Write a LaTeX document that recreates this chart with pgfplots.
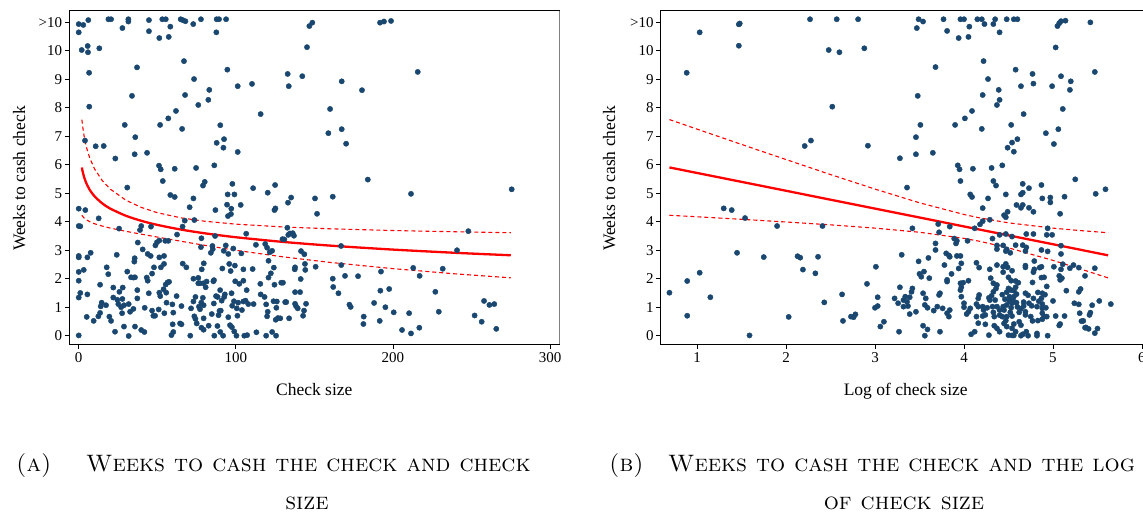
\documentclass[border=0pt]{standalone}
\usepackage{fontspec}
\usepackage{pgfplots}
\pgfplotsset{compat=1.18}
\newfontfamily\tnr{Liberation Serif}
\definecolor{sblue}{RGB}{26,71,111}

\pgfplotsset{
  stata/.style={
    scale only axis, anchor=south west,
    width=490pt, height=333.6pt,
    ymin=-0.302, ymax=11.41,
    ytick={0,1,2,3,4,5,6,7,8,9,10,11},
    yticklabels={0,1,2,3,4,5,6,7,8,9,10,>10},
    tick align=outside, major tick length=4.5pt,
    xtick pos=bottom, ytick pos=left,
    tick style={black, line width=0.8pt},
    axis line style={black, line width=0.9pt},
    /pgf/number format/assume math mode=true,
    ticklabel style={font=\tnr\fontsize{15}{17}\selectfont},
    yticklabel style={inner xsep=2.5pt},
    clip=false,
  },
  dots/.style={only marks, mark=*, mark size=2.65pt, color=sblue, mark options={fill=sblue, draw=sblue}},
  fit/.style={no marks, red, line width=2.3pt},
  ci/.style={no marks, red, line width=1.1pt, dash pattern=on 4pt off 3pt},
}

\begin{document}
\begin{tikzpicture}[x=1pt,y=1pt]
\path[use as bounding box] (0,0) rectangle (1143,512);

% (a) weeks vs check size
\begin{axis}[stata, at={(69.3pt,167.7pt)}, xmin=-6, xmax=305.9, xtick={0,100,200,300}]
\addplot[dots] coordinates {
(0,10.94) (2.9,10.91) (6.1,11.08) (0,10.65) (18.9,11.11) (20.6,11.11) (27.8,10.80) (31.6,11.11) (31.6,11.03)
(44.7,11.08) (44.7,10.69) (51.3,10.45) (53.2,11.11) (55.4,11.11) (57.3,10.49) (58.3,10.85) (64.9,11.11)
(66.2,11.08) (67.9,11.04) (72.9,10.94) (77.8,11.11) (87.8,11.11) (89.3,11.11) (87.6,10.65) (93.8,11.11)
(146.8,10.87) (148.7,10.99) (145.3,10.13) (191.8,10.99) (194.3,11.03) (198.8,11.05)
(133,9.19) (133.7,8.76) (142.3,9.11) (167.4,8.93) (180.3,8.62) (215.8,9.26) (160,7.96) (158.9,7.11)
(167.4,7.25) (170.2,6.74) (184,5.48) (211.5,4.98) (275.6,5.14) (135.2,4.85) (150.4,4.82) (161.7,4.88)
(1.9,10.03) (5.7,10.17) (5.9,9.95) (13.1,10.09) (6.6,9.23) (6.7,8.04) (4.0,6.85) (10.8,6.65) (15.9,6.66)
(23.3,6.22) (29.3,7.40) (33.9,8.42) (37.1,9.42) (36,6.97) (35.6,6.37) (43.5,6.42) (30.9,5.20) (51.8,7.40)
(57,7.63) (61.9,7.89) (65.8,7.26) (67,9.64) (67.7,8.45) (73.4,9.01) (76.1,8.10) (82.5,8.28) (83.1,8.63)
(90.1,7.39) (87.8,6.77) (92.5,6.90) (92.1,6.60) (94.6,9.34) (101.2,8.76) (110.3,8.84) (115.8,7.78)
(101.2,6.45) (51.1,5.97) (52.2,5.84) (53.5,5.43) (61.1,5.86) (74.7,5.89) (86.3,5.98) (80.2,5.40) (79.1,5.27)
(58.3,4.94) (61.1,4.87) (73,4.82) (94.8,4.96) (99.1,4.96) (97.8,5.33) (111,5.18) (120.3,5.02) (125,5.29)
(46,3.83) (73.6,4.06) (62.6,3.55) (78.1,3.42) (86.8,3.50) (77.8,3.11)
(0,0.01) (0,4.46) (4.2,4.41) (0,3.85) (1,3.84) (0,2.75) (0,2.8) (0,2.24) (3.2,2.31) (0,1.93) (1,1.5) (0,1.34)
(5.5,1.45) (5.5,2.75) (7.6,2.91) (12.7,4.12) (5.1,0.66) (9.5,0.52) (12.5,0.68) (13.6,0.80) (13.6,1.79)
(14,1.03) (14.6,1.16) (17.4,1.07) (17.8,2.40) (18.8,2.16) (19.5,0.67) (20.6,0.52) (23.1,0.14) (24.2,2.84)
(25.7,3.76) (22,1.69) (22,1.34) (24.6,1.26) (25.9,1.54) (25.2,1.11) (27,1.0) (27.6,0.79) (27.8,1.29)
(28,1.69) (28.8,0.32) (28.8,1.07) (30.9,2.25) (31.8,-0.01) (31.8,1.11) (32.7,0.84) (33.3,2.05) (34.8,2.04)
(34.8,0.94) (35.4,2.6) (35.6,2.72) (35.8,0.32) (35.8,2.05) (37.3,1.6) (37.6,3.27) (37.3,1.31) (39,3.71)
(39.8,3.85) (39.8,0.2) (40.7,3.03) (41.8,0.13) (42,0.98) (43.3,2.04) (43.9,2.87) (43.9,1.93) (44.6,1.49)
(45.8,2.8) (46.7,2.18) (46.7,0.88) (47.5,0.70) (48.6,0.70) (47.9,2.40) (48.8,3.17) (49.8,3.28) (51.3,3.34)
(51.3,2.75) (51.3,1.51) (50.9,0.92) (51.9,1.39) (52.3,2.40) (54,1.63) (54.3,2.52) (54.3,2.8) (54.5,0.79)
(55.4,1.8) (55.7,1.51) (55.9,1.16) (56.5,1.87) (57.5,1.89) (55.1,3.33) (57,3.33) (59,0.02) (60.2,0.13)
(59.6,1.1) (59.8,0.40) (60.2,0.81) (62.3,1.39) (64.5,0.43) (65.4,0.40) (65.4,1.04) (66.2,2.53) (66.1,3.83)
(67.5,4.04) (68.5,2.40) (70.6,4.51) (71,0) (71.5,0.96) (73,2.0) (73,1.2) (73.6,0.68) (74.3,0.59) (74.3,1.36)
(75.1,0.43) (76.1,2.03) (76.1,1.84) (76.5,1.02) (77.2,0.93) (77.2,1.84) (78.1,0.28) (78,1.16) (78.3,2.33)
(79,1.33) (79.3,1.84) (79.5,0.61) (79.5,1.07) (79.5,0.21) (79.6,2.54) (80.8,1.7) (81.4,1.9) (82.7,0.35)
(84.7,0.76) (85.1,3.15) (84.1,2.91) (85.3,3.04) (85.7,1.91) (86.1,1.95) (86,1.13) (86.3,0) (87,4.41)
(87.4,1.39) (88.4,1.36) (88.3,0.34) (89,0.72) (89.6,0.87) (90,1.6) (90.1,0.13) (90.4,0.88) (91,1.23)
(91.4,2.36) (92.3,2.98) (92.6,1.36) (91.9,0) (93,1.45) (93.6,3.17) (94.4,4.6) (95,4.2) (95.2,2.87)
(95.2,0.65) (95.8,2.52) (96.3,0.37) (96.7,2.27) (96.9,4.27) (97.1,4.46) (97.3,1.49) (97.7,1.05) (97.5,0.3)
(98.4,3.06) (98.8,1.21) (99,0.15) (99.4,2.46) (99.6,1.91) (100.4,0) (100.6,0.96) (101,0.7) (101.5,1.16)
(102.2,1.82) (103.1,4.59) (103.5,2.89) (103.9,0.90) (104.8,2.33) (104.8,1.93) (104.8,1.2) (105.4,0)
(106.2,1.23) (106.6,3.58) (106.9,1.60) (107.2,0.02) (107.9,1.11) (110.7,2.34) (111.3,1.11) (112.8,3.19)
(113.1,0.12) (115.6,1.82) (115.8,1.45) (118.3,1.36) (118.7,3.22) (119.3,1.1) (119.3,0) (119.9,3.09)
(119.9,0.68) (120.3,0.84) (120.8,2.04) (120.8,2.63) (121.6,2.93) (122.3,2.19) (123.1,2.98) (124.2,2.39)
(124,1.21) (124.6,1.79) (124.6,4.41) (125.2,4.47) (125.4,0.56) (123.1,0.13) (125.6,0) (125.8,0.98)
(126.1,1.2) (126.8,0.62) (128.3,0.61) (128.9,1.86) (129.7,3.39) (131.4,1.18) (133.2,4.67) (132.8,3.79)
(134.5,3.59)
(151.7,4.28) (130.9,3.38) (133.4,3.54) (136.2,3.6) (137,3.51) (167,3.15) (248,3.67) (240.8,3.0)
(141.5,2.97) (143.6,2.86) (144,2.52) (144.2,2.31) (137.7,2.4) (137.5,2.33) (150.8,2.42) (141.3,1.99)
(130,1.86) (137.7,1.53) (140.9,1.53) (167.1,2.48) (169.5,2.1) (161.7,2.0) (162,1.71) (165.3,1.49)
(177.8,2.09) (192.4,2.25) (192,1.58) (197.6,1.64) (212.9,2.38) (217,2.1) (231.7,2.35) (227,1.54)
(229.2,0.84) (132.1,1.18) (137.7,1.12) (138.3,1.04) (139.4,0.96) (144.7,1.12) (143.4,0.88) (142.8,0.70)
(133.9,0.61) (172.3,1.09) (173.1,1.01) (188,1.15) (195.2,1.0) (200.5,0.82) (210.3,0.79) (191.6,0.52)
(181.4,0.67) (181.2,0.41) (205.8,0.2) (211.5,0.08) (216.8,0.28) (252,0.71) (256.5,0.49) (258,1.22)
(261.4,1.08) (264.5,1.11) (265.8,0.24)
};
% fitted log curve and confidence band, evaluated at the check sizes below
\addplot[ci] coordinates {(2,7.584) (3,7.147) (4,6.838) (5,6.600) (7,6.241) (10,5.864) (15,5.443) (20,5.150)
 (30,4.757) (40,4.500) (50,4.319) (65,4.138) (80,4.020) (100,3.916) (130,3.818) (160,3.753) (200,3.692) (240,3.648) (275,3.616)};
\addplot[ci] coordinates {(2,4.228) (3,4.157) (4,4.106) (5,4.066) (7,4.003) (10,3.932) (15,3.847) (20,3.778)
 (30,3.665) (40,3.562) (50,3.463) (65,3.316) (80,3.174) (100,2.998) (130,2.768) (160,2.573) (200,2.354) (240,2.170) (275,2.032)};
\addplot[fit, smooth] coordinates {(2,5.906) (2.5,5.766) (3,5.652) (4,5.472) (5,5.333) (7,5.122) (10,4.898) (15,4.645) (20,4.464)
 (30,4.211) (40,4.031) (50,3.891) (65,3.727) (80,3.597) (100,3.457) (130,3.293) (160,3.163) (200,3.023) (240,2.909) (275,2.824)};
\draw[gray, line width=1.6pt] (rel axis cs:1,0) -- (rel axis cs:1,1);
\end{axis}

% (b) weeks vs log of check size
\begin{axis}[stata, at={(660.7pt,167.7pt)}, xmin=0.592, xmax=6.098, xtick={1,2,3,4,5,6}]
\addplot[dots] coordinates {
(0.884,9.23) (1.03,10.65) (1.47,10.93) (1.48,10.96) (1.47,10.18) (2.27,11.11) (2.57,11.11) (2.81,11.11)
(2.48,10.03) (2.60,9.95) (2.88,10.09) (2.52,8.04) (2.21,6.66) (2.28,6.85) (2.92,6.67)
(3.49,11.11) (3.54,11.03) (3.47,10.80) (3.77,11.11) (3.81,10.70) (3.96,11.11) (4.0,11.11) (4.06,10.85)
(3.94,10.45) (4.05,10.49) (4.15,11.11) (4.20,11.11) (4.23,10.94) (4.35,11.11) (4.33,10.94) (4.40,10.65)
(4.48,11.11) (4.56,11.11) (4.60,11.11) (5.05,10.87) (5.07,10.97) (5.09,11.04) (5.14,11.06) (5.42,11.0)
(5.03,10.12) (4.22,9.64) (3.68,9.43) (4.58,9.34) (4.77,9.19) (5.47,9.26) (4.27,9.01) (5.09,9.11) (5.20,8.93)
(4.64,8.76) (4.78,8.85) (4.99,8.76) (4.39,8.63) (5.19,8.63) (3.48,8.42) (4.21,8.45) (4.40,8.28) (4.37,8.10)
(5.11,7.96) (4.09,7.89) (4.01,7.63) (4.67,7.78) (3.51,7.40) (3.90,7.40) (4.53,7.40) (4.20,7.26) (5.06,7.25)
(4.92,7.11) (3.46,6.97) (4.60,6.90) (4.54,6.78) (4.49,6.60) (4.56,6.46) (5.01,6.73) (3.46,6.37) (3.65,6.42)
(3.28,6.23) (3.93,5.98) (3.95,5.84) (4.10,5.86) (4.31,5.89) (4.43,5.98) (5.25,5.49) (3.96,5.43) (4.33,5.43)
(4.36,5.27) (4.66,5.33) (4.73,5.18) (4.87,5.29) (3.36,5.20) (4.07,4.96) (4.09,4.87) (4.27,4.82) (4.47,4.96)
(4.64,4.96) (4.66,5.02) (4.88,4.82) (4.97,4.85) (5.13,4.88) (5.48,4.98) (5.59,5.14)
(1.30,4.47) (1.39,4.41) (1.54,4.13) (1.90,3.85) (2.41,3.85) (1.45,2.91) (1.75,2.76) (2.13,2.79) (2.16,2.74)
(2.36,2.77) (2.19,2.32) (2.33,2.19) (1.03,2.21) (0.89,1.92) (0.69,1.51) (1.15,1.35) (0.89,0.70) (2.03,0.66)
(1.59,0.01) (2.43,1.17) (2.63,1.45) (2.64,0.52) (2.73,0.67) (2.76,0.65) (2.78,0.75) (2.91,1.82) (3.01,2.42)
(3.03,1.35) (3.0,0.98) (3.03,1.04) (3.06,0.32)
(4.97,4.68) (4.21,4.48) (4.29,4.07) (4.21,4.02) (4.18,3.91) (4.12,3.77) (4.45,4.23) (4.47,4.16) (4.49,4.35)
(4.59,4.59) (4.66,4.59) (4.64,4.49) (4.73,4.49) (4.78,4.35) (5.08,4.28) (4.94,3.77) (4.93,3.54) (4.99,3.54)
(4.70,3.57) (4.78,3.57) (4.54,3.48) (4.47,3.57) (4.40,3.54) (4.32,3.41) (4.37,3.17) (4.37,3.04) (4.44,3.17)
(4.47,2.97) (4.52,2.91) (4.48,3.03) (4.58,3.18) (4.66,3.18) (4.70,3.10) (4.69,2.97) (4.79,2.62) (4.87,3.01)
(4.94,2.96) (5.09,3.16) (5.09,2.87) (5.11,2.51) (5.01,2.42) (5.09,2.33) (5.19,2.37) (5.23,2.48) (5.29,2.39)
(5.36,2.10) (5.47,2.37) (5.07,2.10) (5.10,2.02) (5.08,1.96) (5.15,1.58) (5.29,1.54) (5.31,1.64) (5.24,1.14)
(5.29,1.10) (5.44,1.07) (5.52,1.22) (5.65,1.11) (5.42,0.81) (5.41,0.73) (5.34,0.52) (5.32,0.51) (5.30,0.79)
(5.36,0.28) (5.40,0.24) (5.50,0.25) (5.47,0.09) (5.13,0.69) (5.03,0.69) (5.08,0.41) (5.00,1.22) (4.93,1.73)
(4.90,2.05) (4.87,2.04) (4.85,2.39) (4.87,2.42) (4.78,2.23) (4.77,1.87) (4.83,1.52) (4.88,1.49) (4.91,1.44)
(4.87,1.31) (4.84,1.21) (4.88,1.11) (4.82,1.02) (4.88,0.96) (4.92,0.98) (4.88,0.79) (4.90,0.67) (4.93,0.67)
(4.83,0.53) (4.88,0.58) (4.94,0) (4.82,0) (4.82,0.08) (4.72,0) (4.66,0.05) (4.64,0) (4.70,0.14) (4.69,1.49)
(4.72,1.42) (4.78,1.31) (4.67,1.18) (4.73,1.14) (4.76,1.05) (4.67,1.04) (4.64,0.95) (4.69,0.84) (4.69,0.73)
(4.75,0.67) (4.77,0.52) (4.62,0.49) (4.64,0.37) (4.62,0.82) (4.60,1.01) (4.59,1.16) (4.56,1.37) (4.55,1.25)
(4.59,1.46) (4.56,1.58) (4.58,1.70) (4.61,1.86) (4.58,1.92) (4.69,2.46) (4.69,2.40) (4.79,2.33) (4.54,2.28)
(4.47,2.52) (4.49,2.40) (4.50,2.05) (4.53,1.93) (4.50,1.66) (4.53,1.60) (4.48,1.53) (4.43,1.44) (4.51,1.37)
(4.46,1.28) (4.51,1.22) (4.54,1.14) (4.48,1.08) (4.44,1.02) (4.40,0.90) (4.45,0.90) (4.53,0.98) (4.52,0.82)
(4.54,0.69) (4.48,0.67) (4.43,0.67) (4.40,0.72) (4.47,0.53) (4.45,0.43) (4.48,0.32) (4.54,0.26) (4.50,0.02)
(4.54,0.01) (4.56,0.01) (4.56,0.41) (4.58,0.14) (4.34,0.35) (4.37,0.26) (4.40,0.14) (4.28,0.02) (4.34,0.67)
(4.33,0.82) (4.32,1.02) (4.37,1.02) (4.35,1.25) (4.29,1.25) (4.31,1.40) (4.28,1.33) (4.33,1.54) (4.36,1.66)
(4.37,1.78) (4.33,1.84) (4.30,2.02) (4.29,2.33) (4.37,2.48) (4.44,2.23) (4.44,2.42) (4.14,2.56) (4.17,2.39)
(4.26,0.98) (4.21,1.02) (4.16,1.02) (4.14,1.11) (4.16,1.31) (4.17,1.43) (4.22,0.90) (4.24,0.73) (4.21,0.69)
(4.14,0.67) (4.16,0.44) (4.24,0.40) (4.12,0.14) (4.08,0.05) (4.05,0.84) (4.07,0.96) (4.03,0.76) (4.00,1.0)
(4.00,1.14) (3.97,1.37) (3.96,1.60) (3.97,1.70) (3.96,1.84) (3.99,1.86) (4.05,1.93) (3.94,2.36) (3.97,2.54)
(3.92,2.80) (3.96,2.80) (3.91,3.24) (3.89,3.41) (3.92,3.33) (3.84,3.83) (3.84,2.77) (3.80,2.89) (3.83,2.82)
(3.86,2.17) (3.81,1.96) (3.78,2.48) (3.71,3.92) (3.72,3.63) (3.68,3.24) (3.68,3.01) (3.60,2.73) (3.49,2.61)
(3.52,2.07) (3.50,2.17) (3.55,2.25) (3.61,2.02) (3.73,1.49) (3.72,1.43) (3.76,0.96) (3.81,1.90) (3.70,1.02)
(3.66,0.88) (3.59,0.98) (3.56,1.08) (3.54,1.49) (3.57,1.31) (3.83,0.67) (3.81,0.79) (3.84,0.90) (3.73,0.14)
(3.59,0.22) (3.56,0) (3.54,0.35) (3.41,1.54) (3.42,1.66) (3.39,1.35) (3.34,1.37) (3.36,1.19) (3.32,1.25)
(3.37,1.04) (3.32,1.02) (3.39,0.76) (3.46,0.84) (3.28,1.70) (3.22,1.31) (3.26,1.14) (3.27,0.14) (3.30,2.84)
(3.10,0.49) (3.42,3.77) (4.04,3.33) (5.37,0.29) (5.07,0.36)
};
\addplot[ci] coordinates {(0.69,7.588) (1.0,7.253) (1.5,6.716) (2.0,6.184) (2.5,5.658) (3.0,5.147) (3.5,4.666)
 (4.0,4.255) (4.17,4.140) (4.5,3.962) (5.0,3.776) (5.3,3.692) (5.62,3.615)};
\addplot[ci] coordinates {(0.69,4.228) (1.0,4.175) (1.5,4.086) (2.0,3.992) (2.5,3.892) (3.0,3.777) (3.5,3.632)
 (4.0,3.417) (4.17,3.318) (4.5,3.084) (5.0,2.644) (5.3,2.352) (5.62,2.029)};
\addplot[fit] coordinates {(0.69,5.908) (5.62,2.822)};
\end{axis}

% axis titles
\begin{scope}[font=\tnr\fontsize{17.5}{20}\selectfont]
\node[rotate=90, anchor=base] at (25,333.5) {Weeks to cash check};
\node[rotate=90, anchor=base] at (615,333.5) {Weeks to cash check};
\node[anchor=base] at (314.3,117) {Check size};
\node[anchor=base] at (905.7,117) {Log of check size};
\end{scope}

% subcaptions
\begin{scope}[font=\fontsize{23.8}{28}\selectfont\scshape]
\node[anchor=base west, inner sep=0] at (16,41) {(a)};
\node[anchor=base west, inner sep=0] at (86,41) {Weeks to cash the check and check};
\node[anchor=base, inner sep=0] at (307,2.5) {size};
\node[anchor=base west, inner sep=0] at (609,41) {(b)};
\node[anchor=base west, inner sep=0] at (668,41) {Weeks to cash the check and the log};
\node[anchor=base, inner sep=0] at (904,2.5) {of check size};
\end{scope}
\end{tikzpicture}
\end{document}
